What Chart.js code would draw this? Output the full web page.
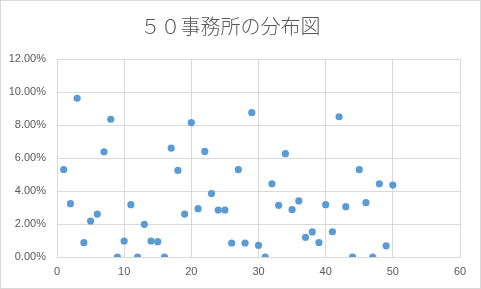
<!DOCTYPE html>
<html>
<head>
<meta charset="utf-8">
<script src="https://cdn.jsdelivr.net/npm/chart.js@4"></script>
<style>
    body { margin: 0; background: #ffffff; }
    #contenedor {
        width: 481px;
        height: 289px;
        box-sizing: border-box;
        border: 1px solid #d9d9d9;
        background: #ffffff;
    }
</style>
</head>
<body>
<div id="contenedor"><canvas id="chart_oficinas"></canvas></div>
<script>
// numero de oficina (eje x)
const oficinas = [1, 2, 3, 4, 5, 6, 7, 8, 9, 10,
    11, 12, 13, 14, 15, 16, 17, 18, 19, 20,
    21, 22, 23, 24, 25, 26, 27, 28, 29, 30,
    31, 32, 33, 34, 35, 36, 37, 38, 39, 40,
    41, 42, 43, 44, 45, 46, 47, 48, 49, 50]
// porcentaje de cada oficina (eje y, en %)
const porcentajes = [5.3, 3.23, 9.62, 0.87, 2.18, 2.6, 6.38, 8.35, 0, 0.97,
    3.17, 0, 1.98, 0.97, 0.93, 0, 6.6, 5.25, 2.6, 8.15,
    2.93, 6.4, 3.85, 2.85, 2.85, 0.85, 5.3, 0.85, 8.75, 0.7,
    0, 4.44, 3.13, 6.26, 2.87, 3.4, 1.19, 1.52, 0.88, 3.17,
    1.53, 8.5, 3.05, 0, 5.29, 3.29, 0, 4.44, 0.68, 4.36]
const titulo = "５０事務所の分布図"
const ticks_x = [0, 10, 20, 30, 40, 50, 60]
const ticks_y = [0, 2, 4, 6, 8, 10, 12]

const color_gris = "#595959"
const color_grid = "#d9d9d9"
const color_punto = "#5b9bd5"

function crear_grafico() {
    const $grafica = document.querySelector("#chart_oficinas")
    const puntos = []
    for (var i = 0; i < oficinas.length; i++) {
        puntos.push({ x: oficinas[i], y: porcentajes[i] })
    }
    new Chart($grafica, {
        type: "scatter",
        data: {
            datasets: [{
                data: puntos,
                backgroundColor: color_punto,
                borderColor: color_punto,
                borderWidth: 0,
                pointRadius: 3.6,
                pointHoverRadius: 3.6
            }]
        },
        options: {
            responsive: true,
            maintainAspectRatio: false,
            animation: false,
            layout: {
                padding: { top: 0, left: 0, right: 20, bottom: 0 }
            },
            scales: {
                x: {
                    type: "linear",
                    min: ticks_x[0],
                    max: ticks_x[ticks_x.length - 1],
                    afterBuildTicks: (eje) => {
                        eje.ticks = ticks_x.map(v => ({ value: v }))
                    },
                    afterFit: (eje) => { eje.height = 31 },
                    ticks: {
                        color: color_gris,
                        padding: 8,
                        font: { family: "Liberation Sans", size: 11 }
                    },
                    grid: {
                        color: color_grid,
                        drawTicks: false
                    },
                    border: { color: color_grid }
                },
                y: {
                    min: ticks_y[0],
                    max: ticks_y[ticks_y.length - 1],
                    afterBuildTicks: (eje) => {
                        eje.ticks = ticks_y.map(v => ({ value: v }))
                    },
                    afterFit: (eje) => { eje.width = 56 },
                    ticks: {
                        color: color_gris,
                        padding: 11,
                        font: { family: "Liberation Sans", size: 11 },
                        callback: (valor) => valor.toFixed(2) + "%"
                    },
                    grid: {
                        color: color_grid,
                        drawTicks: false
                    },
                    border: { color: color_grid }
                }
            },
            plugins: {
                legend: { display: false },
                tooltip: { enabled: false },
                title: {
                    display: true,
                    text: titulo,
                    color: color_gris,
                    font: { family: "Noto Sans CJK JP", size: 20, weight: 300 },
                    padding: { top: 13, bottom: 21 }
                }
            }
        }
    })
}

crear_grafico()
</script>
</body>
</html>
